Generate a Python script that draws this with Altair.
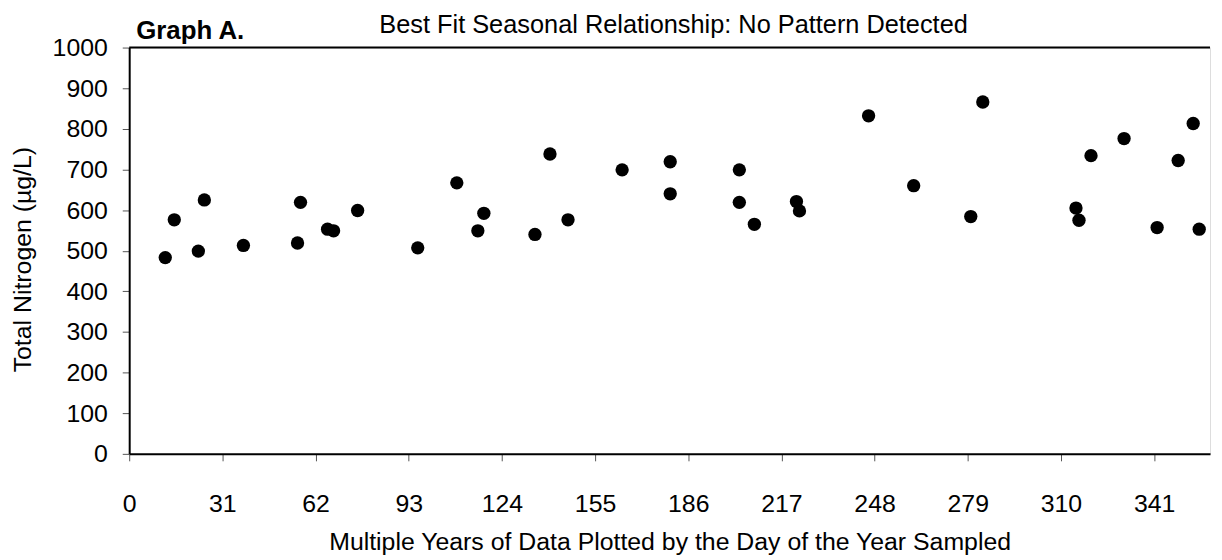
import altair as alt
import pandas as pd

day = [12, 15, 23, 25, 38, 56, 57, 66, 68, 76, 96, 109, 116, 118, 135, 140, 146,
       164, 180, 180, 203, 203, 208, 222, 223, 246, 261, 280, 284, 315, 316, 320,
       331, 342, 349, 354, 356]
nitrogen = [483, 576, 499, 625, 513, 519, 619, 553, 549, 599, 507, 667, 549, 592, 540, 738, 576,
            699, 719, 640, 699, 619, 565, 621, 598, 832, 660, 584, 866, 605, 575, 734,
            776, 557, 722, 813, 553]
x_ticks = [0, 31, 62, 93, 124, 155, 186, 217, 248, 279, 310, 341]
y_ticks = [0, 100, 200, 300, 400, 500, 600, 700, 800, 900, 1000]

df = pd.DataFrame({"day": day, "tn": nitrogen})

W, H = 1088, 409
XMAX = 359.6
FONT = "Liberation Sans"

base = alt.Chart(df)

points = base.mark_circle(size=180, color="black", opacity=1).encode(
    x=alt.X("day:Q",
            scale=alt.Scale(domain=[0, XMAX], nice=False, zero=True),
            axis=alt.Axis(values=x_ticks, format="d",
                          title="Multiple Years of Data Plotted by the Day of the Year Sampled",
                          grid=False, domainColor="black", domainWidth=2,
                          tickColor="#555", tickWidth=1, tickSize=7,
                          labelFont=FONT, labelFontSize=25, labelColor="black", labelPadding=31,
                          labelFlush=False,
                          titleFont=FONT, titleFontSize=25, titleFontWeight="normal",
                          titleColor="black", titlePadding=13)),
    y=alt.Y("tn:Q",
            scale=alt.Scale(domain=[0, 1000], nice=False),
            axis=alt.Axis(values=y_ticks, format="d", title="Total Nitrogen (µg/L)",
                          grid=False, domainColor="black", domainWidth=2,
                          tickColor="#555", tickWidth=1, tickSize=7,
                          labelFont=FONT, labelFontSize=25, labelColor="black", labelPadding=15,
                          titleFont=FONT, titleFontSize=25, titleFontWeight="normal",
                          titleColor="black", titlePadding=17, titleY=213)),
)

top_line = alt.Chart(pd.DataFrame({"v": [1000]})).mark_rule(color="black", strokeWidth=2).encode(
    y=alt.Y("v:Q", scale=alt.Scale(domain=[0, 1000], nice=False)),
    x=alt.value(0), x2=alt.value(W),
)

title = alt.Chart(pd.DataFrame({"t": ["Best Fit Seasonal Relationship: No Pattern Detected"]})).mark_text(
    font=FONT, fontSize=25.5, color="black", align="center", baseline="alphabetic"
).encode(text="t:N", x=alt.value(548), y=alt.value(-15))

label = alt.Chart(pd.DataFrame({"t": ["Graph A."]})).mark_text(
    font=FONT, fontSize=26, fontWeight="bold", color="black", align="left", baseline="alphabetic"
).encode(text="t:N", x=alt.value(7), y=alt.value(-9))

chart = alt.layer(points, top_line, title, label).properties(
    width=W, height=H,
    autosize=alt.AutoSizeParams(type="none"),
    padding={"left": 122, "top": 38, "right": 4, "bottom": 100},
).configure_view(stroke=None).configure(background="white")

chart.save("out.html", embed_options={"renderer": "svg", "actions": False})
